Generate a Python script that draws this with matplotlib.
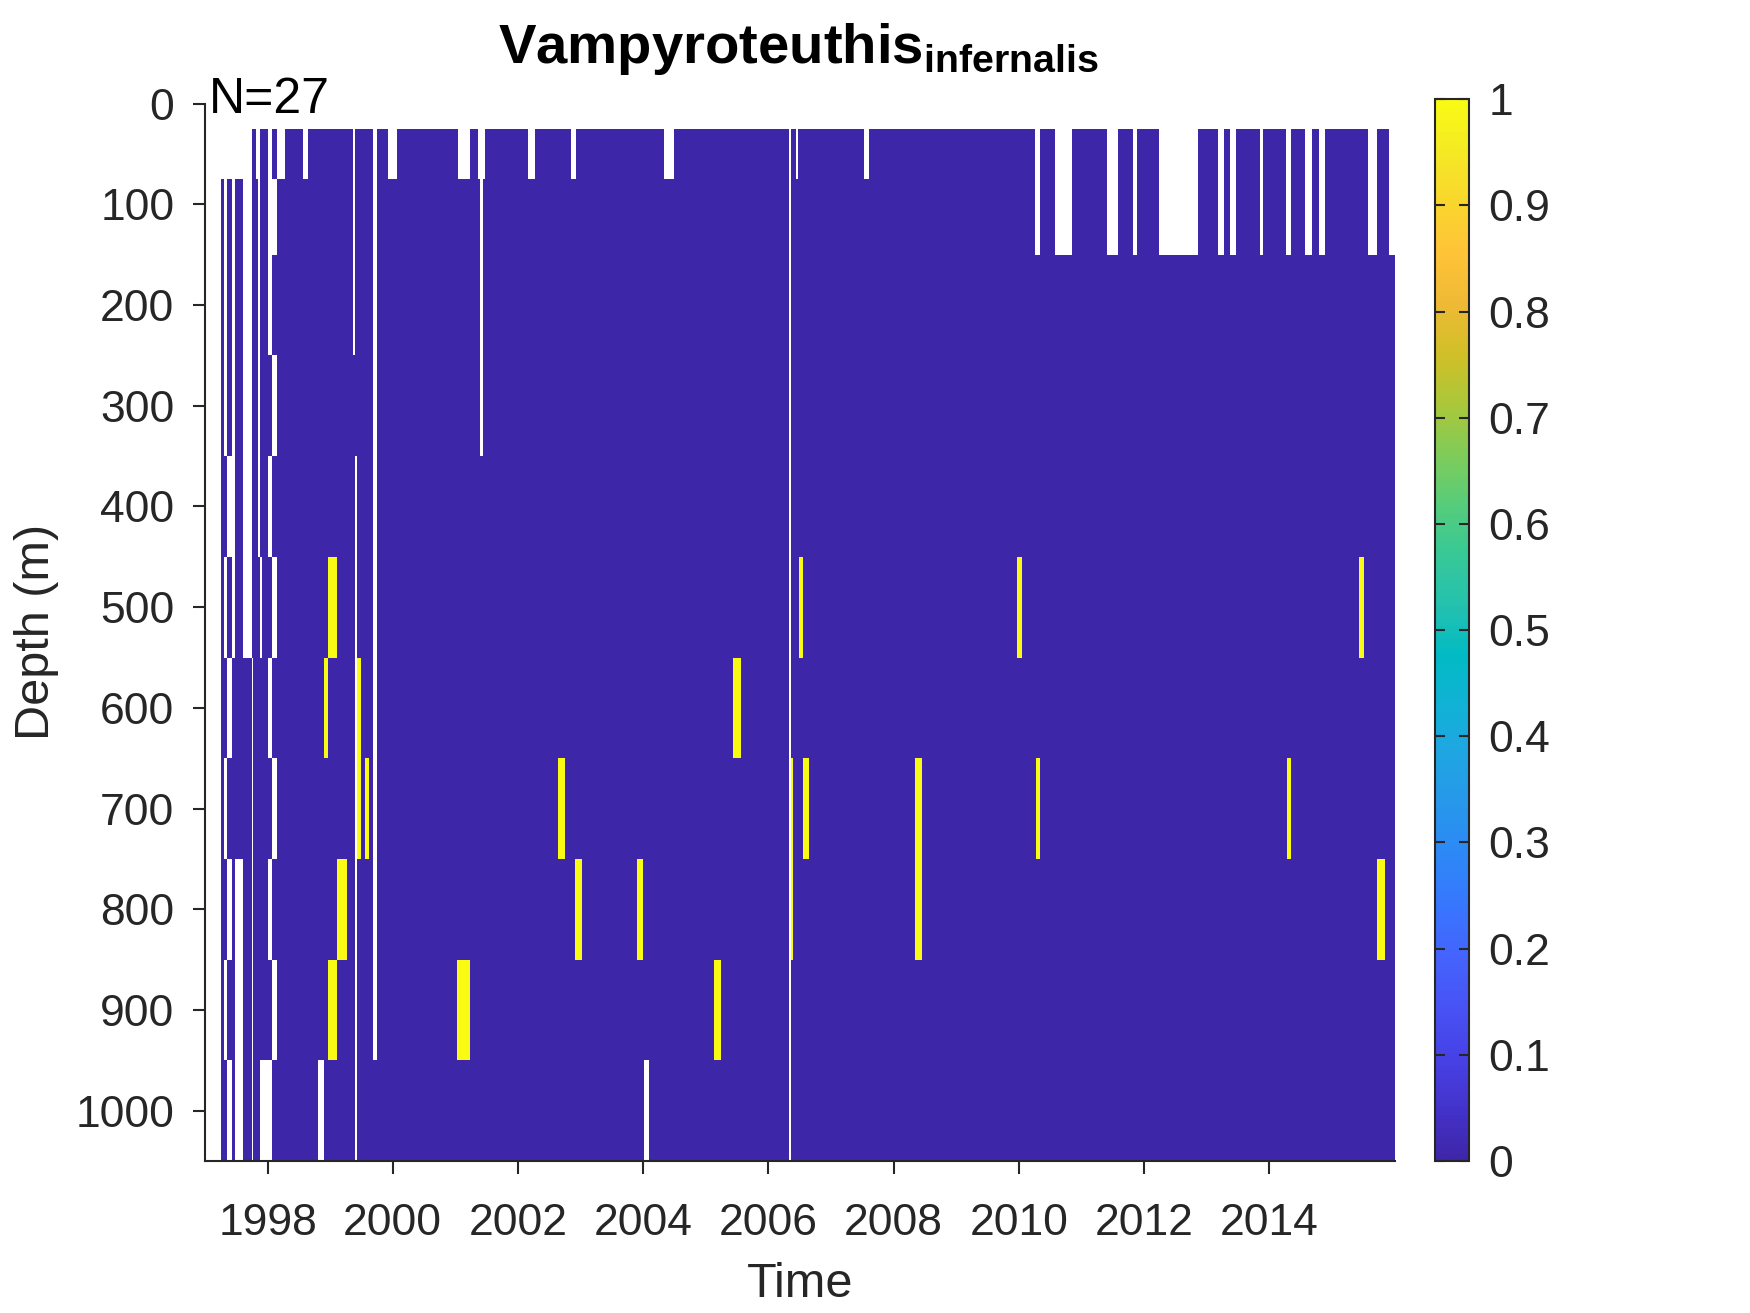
import numpy as np
import matplotlib
matplotlib.use("Agg")
import matplotlib.pyplot as plt
from matplotlib.colors import LinearSegmentedColormap

plt.rcParams['font.family'] = ['Liberation Sans', 'DejaVu Sans']
plt.rcParams['mathtext.fontset'] = 'custom'
plt.rcParams['mathtext.rm'] = 'Liberation Sans'
plt.rcParams['mathtext.bf'] = 'Liberation Sans:bold'

# depth bins (m), centre of each sampled layer
depth = [50, 100, 200, 300, 400, 500, 600, 700, 800, 900, 1000]
t_start, t_end = 1997.0, 2016.01
n_obs = 27

# spans (decimal years) with no sampling, per depth row
right_gaps = [(2010.26, 2010.34), (2010.58, 2010.85), (2011.41, 2011.58), (2011.82, 2011.89),
              (2012.24, 2012.86), (2013.18, 2013.28), (2013.37, 2013.47), (2013.85, 2013.90),
              (2014.27, 2014.35), (2014.57, 2014.68), (2014.80, 2014.90), (2015.58, 2015.72),
              (2015.91, 2016.01)]
gaps = {
    0: [(1997.0, 1997.751), (1997.809, 1997.879), (1998.006, 1998.070), (1998.145, 1998.278),
        (1998.566, 1998.645), (1999.364, 1999.396), (1999.685, 1999.752), (1999.930, 2000.066),
        (2001.043, 2001.233), (2001.367, 2001.478), (2002.161, 2002.272), (2002.853, 2002.927),
        (2004.33, 2004.49), (2006.33, 2006.37), (2006.44, 2006.48), (2007.53, 2007.61)] + right_gaps,
    1: [(1997.0, 1997.256), (1997.304, 1997.351), (1997.431, 1997.479), (1997.607, 1997.751),
        (1997.841, 1997.879), (1998.006, 1998.145), (1999.364, 1999.396), (1999.685, 1999.752),
        (2001.39, 2001.45), (2006.33, 2006.37)] + right_gaps,
    2: [(1997.0, 1997.256), (1997.304, 1997.351), (1997.431, 1997.479), (1997.607, 1997.751),
        (1997.841, 1997.879), (1998.006, 1998.070), (1999.364, 1999.396), (1999.685, 1999.752),
        (2001.39, 2001.45), (2006.33, 2006.37)],
    3: [(1997.0, 1997.256), (1997.304, 1997.351), (1997.431, 1997.479), (1997.607, 1997.751),
        (1997.841, 1997.879), (1998.070, 1998.145), (1999.685, 1999.752), (2001.39, 2001.45),
        (2006.33, 2006.37)],
    4: [(1997.0, 1997.256), (1997.351, 1997.479), (1997.607, 1997.751), (1997.841, 1997.879),
        (1998.006, 1998.070), (1999.396, 1999.433), (1999.685, 1999.752), (2006.33, 2006.37)],
    5: [(1997.0, 1997.256), (1997.304, 1997.351), (1997.431, 1997.479), (1997.607, 1997.751),
        (1997.879, 1997.911), (1998.070, 1998.145), (1999.396, 1999.433), (1999.685, 1999.752),
        (2006.33, 2006.37)],
    6: [(1997.0, 1997.256), (1997.351, 1997.431), (1997.751, 1997.772), (1998.012, 1998.070),
        (1999.396, 1999.433), (1999.685, 1999.752), (2006.33, 2006.37)],
    7: [(1997.0, 1997.256), (1997.304, 1997.351), (1997.751, 1997.772), (1998.070, 1998.145),
        (1999.396, 1999.433), (1999.685, 1999.752), (2006.33, 2006.37)],
    8: [(1997.0, 1997.256), (1997.351, 1997.431), (1997.479, 1997.607), (1997.751, 1997.772),
        (1998.012, 1998.070), (1999.396, 1999.433), (1999.685, 1999.752), (2006.33, 2006.37)],
    9: [(1997.0, 1997.256), (1997.304, 1997.351), (1997.479, 1997.607), (1997.751, 1997.772),
        (1998.070, 1998.145), (1999.396, 1999.433), (1999.685, 1999.752), (2006.33, 2006.37)],
    10: [(1997.0, 1997.256), (1997.351, 1997.431), (1997.479, 1997.607), (1997.751, 1997.772),
         (1997.879, 1998.070), (1998.810, 1998.901), (1999.396, 1999.433), (2004.02, 2004.10),
         (2006.33, 2006.37)],
}

# presence (value 1): (row, start year, end year)
hits = [(5, 1998.970, 1999.109), (6, 1998.906, 1998.970), (6, 1999.433, 1999.492),
        (7, 1999.433, 1999.492), (7, 1999.554, 1999.626), (8, 1999.109, 1999.268),
        (9, 1998.970, 1999.109),
        (5, 2006.49, 2006.55), (5, 2009.965, 2010.054), (5, 2015.438, 2015.509),
        (6, 2005.437, 2005.562),
        (7, 2002.639, 2002.746), (7, 2006.37, 2006.40), (7, 2006.55, 2006.65),
        (7, 2008.343, 2008.45), (7, 2010.269, 2010.34), (7, 2014.28, 2014.35),
        (8, 2002.906, 2003.03), (8, 2003.904, 2003.993), (8, 2006.37, 2006.40),
        (8, 2008.343, 2008.45), (8, 2015.72, 2015.85),
        (9, 2001.034, 2001.23), (9, 2005.134, 2005.241)]

# parula (MATLAB R2014b) sampled
parula_pts = [
    (0.2422, 0.1504, 0.6603), (0.2647, 0.1978, 0.7952), (0.2783, 0.2559, 0.8991),
    (0.2810, 0.3228, 0.9579), (0.2699, 0.3892, 0.9906), (0.2206, 0.4603, 0.9973),
    (0.1786, 0.5289, 0.9682), (0.1540, 0.5902, 0.9218), (0.1248, 0.6459, 0.8883),
    (0.0689, 0.6948, 0.8394), (0.0067, 0.7312, 0.7660), (0.1408, 0.7584, 0.6842),
    (0.2161, 0.7843, 0.5923), (0.3406, 0.8008, 0.4789), (0.5044, 0.7993, 0.3480),
    (0.6720, 0.7793, 0.2227), (0.8203, 0.7498, 0.1535), (0.9393, 0.7288, 0.2100),
    (0.9970, 0.7659, 0.2199), (0.9786, 0.8386, 0.1766), (0.9597, 0.9135, 0.1423),
    (0.9769, 0.9839, 0.0805)]
parula = LinearSegmentedColormap.from_list('parula', parula_pts, N=256)

# grid
d = np.array(depth, float)
mid = (d[:-1] + d[1:]) / 2
y_edges = np.concatenate([[d[0] - (mid[0] - d[0])], mid, [d[-1] + (d[-1] - mid[-1])]])
pts = {t_start, t_end}
for r in gaps:
    for a, b in gaps[r]:
        pts |= {a, b}
for r, a, b in hits:
    pts |= {a, b}
x_edges = np.array(sorted(pts))
xm = (x_edges[:-1] + x_edges[1:]) / 2
Z = np.zeros((len(depth), len(xm)))
for r, spans in gaps.items():
    for a, b in spans:
        Z[r, (xm > a) & (xm < b)] = np.nan
for r, a, b in hits:
    Z[r, (xm > a) & (xm < b)] = 1

tc = '#262626'
fig = plt.figure(figsize=(17.5, 13.13), dpi=100)
ax = fig.add_axes([0.1171, 0.1158, 0.68, 0.8052])
mesh = ax.pcolormesh(x_edges, y_edges, np.ma.masked_invalid(Z), cmap=parula,
                     vmin=0, vmax=1, shading='flat', antialiased=False, linewidth=0)
ax.set_xlim(t_start, t_end)
ax.set_ylim(1050, 0)
ax.set_xticks(range(1998, 2015, 2))
ax.set_yticks(range(0, 1001, 100))
for s in ['top', 'right']:
    ax.spines[s].set_visible(False)
for s in ['left', 'bottom']:
    ax.spines[s].set_linewidth(1.5)
    ax.spines[s].set_color(tc)
ax.tick_params(direction='out', length=9, width=1.5, color=tc, labelcolor=tc,
               labelsize=32, pad=13)
ax.tick_params(axis='x', pad=21)
ax.set_xlabel('Time', fontsize=35, color=tc, labelpad=13)
ax.set_ylabel('Depth (m)', fontsize=35, color=tc, labelpad=12)
ax.text(1997.07, 9, 'N=%d' % n_obs, fontsize=36, va='baseline', ha='left')
fig.text(0.4566, 1 - 63 / 1313, r'$\mathbf{Vampyroteuthis}_{\mathbf{infernalis}}$',
         fontsize=40.5, ha='center', va='baseline')

cax = fig.add_axes([0.82, 0.1158, 0.0194, 0.8086])
cb = fig.colorbar(mesh, cax=cax, ticks=np.arange(0, 1.01, 0.1))
cb.ax.set_yticklabels(['0'] + ['%.1f' % v for v in np.arange(0.1, 0.95, 0.1)] + ['1'])
cb.outline.set_linewidth(1.5)
cb.outline.set_edgecolor(tc)
cb.ax.tick_params(direction='in', left=True, right=True, length=7, width=1.5,
                  color=tc, labelcolor=tc, labelsize=32, pad=14)

fig.savefig('out.png', dpi=100)
